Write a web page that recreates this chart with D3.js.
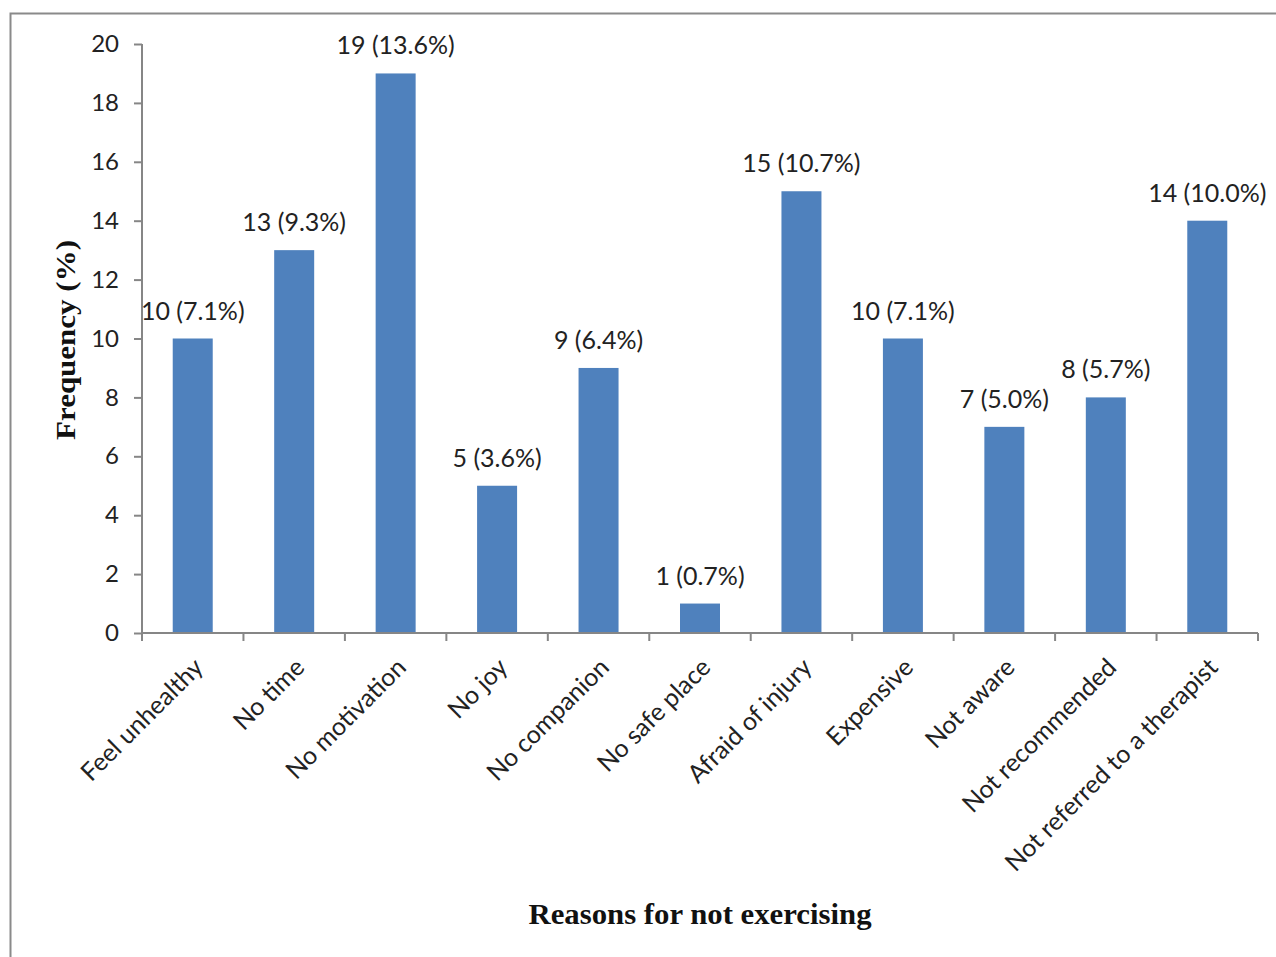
<!DOCTYPE html>
<html><head><meta charset="utf-8">
<script src="https://cdn.jsdelivr.net/npm/d3@7"></script>
<style>body{margin:0;background:#fff;} svg{display:block;}</style>
</head><body>
<svg id="chart" width="1276" height="957"></svg>
<script>
const categories = ["Feel unhealthy","No time","No motivation","No joy","No companion","No safe place","Afraid of injury","Expensive","Not aware","Not recommended","Not referred to a therapist"];
const counts = [10,13,19,5,9,1,15,10,7,8,14];
const percents = ["7.1%","9.3%","13.6%","3.6%","6.4%","0.7%","10.7%","7.1%","5.0%","5.7%","10.0%"];
const yTicks = [0,2,4,6,8,10,12,14,16,18,20];

const svg = d3.select("#chart");
const m = {left:142, right:1258, top:44, bottom:633};
const font = "Lato, 'Open Sans', sans-serif";
const fs = 25;

// outer frame
svg.append("rect").attr("x",10.5).attr("y",13.5).attr("width",1300).attr("height",1000)
  .attr("fill","none").attr("stroke","#8a8a8a").attr("stroke-width",2);

const xb = d3.scaleBand().domain(categories).range([m.left,m.right]);
const y = d3.scaleLinear().domain([0,20]).range([m.bottom,m.top]);

// bars
svg.selectAll("rect.bar").data(categories).enter().append("rect")
  .attr("class","bar")
  .attr("x",(d)=>xb(d)+xb.bandwidth()/2-20)
  .attr("width",40)
  .attr("y",(d,i)=>y(counts[i]))
  .attr("height",(d,i)=>y(0)-y(counts[i]))
  .attr("fill","#4f81bd");

// y axis
const ya = svg.append("g").attr("transform",`translate(${m.left},0)`)
  .call(d3.axisLeft(y).tickValues(yTicks).tickSize(8).tickPadding(15).tickFormat(d3.format("d")));
ya.select(".domain").attr("stroke","#868686").attr("stroke-width",2).attr("d",`M0,${m.top}V${m.bottom}`);
ya.selectAll(".tick line").attr("stroke","#868686").attr("stroke-width",2);
ya.selectAll(".tick text").attr("font-family",font).attr("font-size",24).attr("fill","#222");

// x axis line with boundary ticks
const xa = svg.append("g");
xa.append("line").attr("x1",m.left).attr("x2",m.right).attr("y1",m.bottom).attr("y2",m.bottom)
  .attr("stroke","#868686").attr("stroke-width",2);
const bounds = categories.map(c=>xb(c)).concat([m.right]);
xa.selectAll("line.t").data(bounds).enter().append("line").attr("class","t")
  .attr("x1",d=>d).attr("x2",d=>d).attr("y1",m.bottom).attr("y2",m.bottom+8)
  .attr("stroke","#868686").attr("stroke-width",2);

// x category labels rotated
svg.selectAll("text.cat").data(categories).enter().append("text")
  .attr("class","cat")
  .attr("transform",d=>`translate(${xb(d)+xb.bandwidth()/2+12},${m.bottom+36}) rotate(-45)`)
  .attr("text-anchor","end")
  .attr("font-family",font).attr("font-size",fs).attr("fill","#222")
  .text(d=>d);

// value labels
svg.selectAll("text.val").data(categories).enter().append("text")
  .attr("class","val")
  .attr("x",d=>xb(d)+xb.bandwidth()/2)
  .attr("y",(d,i)=>y(counts[i])-19)
  .attr("text-anchor","middle")
  .attr("font-family",font).attr("font-size",fs).attr("fill","#222")
  .text((d,i)=>`${counts[i]} (${percents[i]})`);

// axis titles
svg.append("text").attr("transform","translate(75,340) rotate(-90)")
  .attr("text-anchor","middle").attr("font-family","'Liberation Serif', 'Times New Roman', serif")
  .attr("font-weight","bold").attr("font-size",27).attr("fill","#111")
  .attr("textLength",200).attr("lengthAdjust","spacingAndGlyphs")
  .text("Frequency (%)");
svg.append("text").attr("x",700).attr("y",924)
  .attr("text-anchor","middle").attr("font-family","'Liberation Serif', 'Times New Roman', serif")
  .attr("font-weight","bold").attr("font-size",29).attr("fill","#111")
  .attr("textLength",343).attr("lengthAdjust","spacingAndGlyphs")
  .text("Reasons for not exercising");
</script>
</body></html>
